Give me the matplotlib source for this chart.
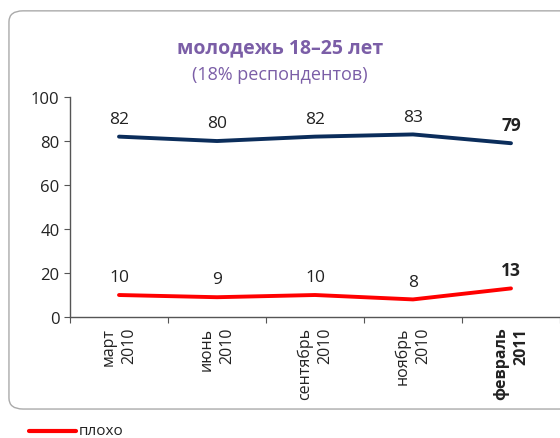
import numpy as np
import matplotlib.pyplot as plt
from matplotlib.patches import FancyBboxPatch

months = ['март\n2010', 'июнь\n2010', 'сентябрь\n2010', 'ноябрь\n2010', 'февраль\n2011']
good = [82, 80, 82, 83, 79]
bad = [10, 9, 10, 8, 13]

plt.rcParams['font.family'] = ['Open Sans', 'DejaVu Sans']

fig = plt.figure(figsize=(5.6, 4.39), dpi=100)

# rounded frame behind the chart
frame = FancyBboxPatch((0.016, 0.066), 1.2, 0.907, boxstyle='round,pad=0,rounding_size=0.025',
                       transform=fig.transFigure, facecolor='white', edgecolor='#aaaaaa',
                       linewidth=1.0, zorder=-5)
fig.patches.append(frame)

ax = fig.add_axes([0.125, 0.2756, 0.875, 0.5011])
ax.set_zorder(2)
ax.set_facecolor('none')
x = np.arange(len(months))
ax.plot(x, good, color='#0b2d5b', lw=2.8, solid_capstyle='round')
ax.plot(x, bad, color='#ff0000', lw=2.8, solid_capstyle='round')

for i in x:
    w = 'bold' if i == len(x) - 1 else 'normal'
    ax.annotate(str(good[i]), (i, good[i]), xytext=(0, 7), textcoords='offset points',
                ha='center', va='bottom', fontsize=12.5, fontweight=w, color='#222222')
    ax.annotate(str(bad[i]), (i, bad[i]), xytext=(0, 7), textcoords='offset points',
                ha='center', va='bottom', fontsize=12.5, fontweight=w, color='#222222')

ax.set_xlim(-0.5, len(months) - 0.5)
ax.set_ylim(0, 100)
ax.set_yticks(range(0, 101, 20))
ax.tick_params(axis='y', labelsize=12, colors='#222222', direction='out', length=4, color='#555555')

ax.set_xticks(np.arange(-0.5, len(months) - 0.4, 1.0))
ax.set_xticklabels([])
ax.set_xticks(x, minor=True)
ax.set_xticklabels(months, minor=True, rotation=90, fontsize=11.5, va='top', ha='center',
                   multialignment='right', linespacing=1.35)
ax.tick_params(axis='x', which='major', direction='out', length=4, color='#555555')
ax.tick_params(axis='x', which='minor', length=0, pad=7, colors='#222222')
for lbl in ax.get_xticklabels(minor=True)[-1:]:
    lbl.set_fontweight('bold')

for s in ['top', 'right']:
    ax.spines[s].set_visible(False)
for s in ['left', 'bottom']:
    ax.spines[s].set_color('#555555')
    ax.spines[s].set_linewidth(1.0)

fig.text(0.5, 0.89, 'молодежь 18–25 лет', ha='center', va='center', fontsize=14,
         fontweight='bold', color='#7b5ea7')
fig.text(0.5, 0.83, '(18% респондентов)', ha='center', va='center', fontsize=13,
         color='#7b5ea7')

# legend entry
fig.lines.append(plt.Line2D([0.052, 0.136], [0.016, 0.016], transform=fig.transFigure,
                            color='#ff0000', lw=3, solid_capstyle='round'))
fig.text(0.14, 0.018, 'плохо', ha='left', va='center', fontsize=11, color='#222222')

fig.savefig('out.png', dpi=100)
